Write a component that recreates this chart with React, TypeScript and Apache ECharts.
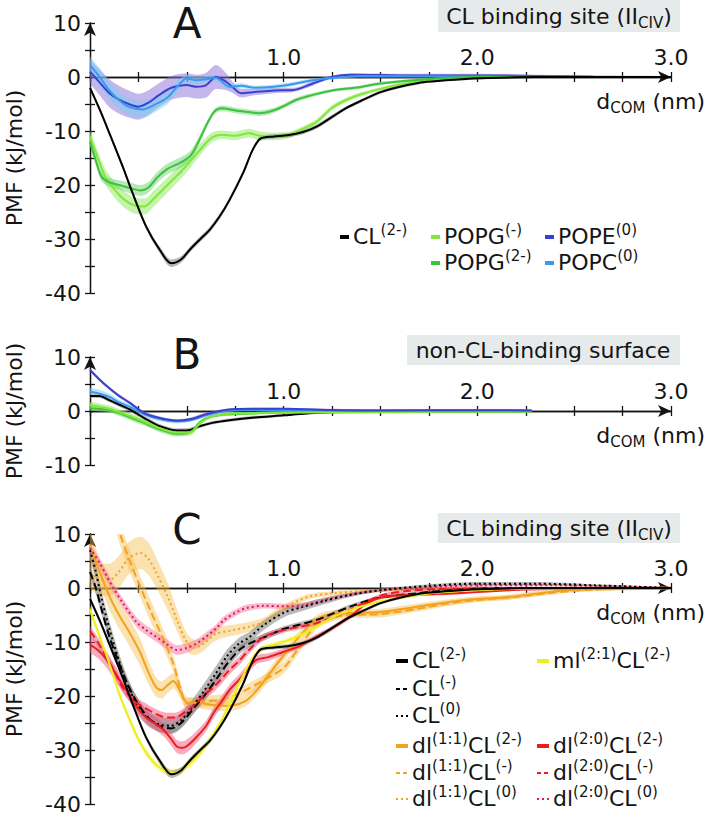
import React, { useEffect, useRef } from 'react';
import * as echarts from 'echarts';

// Each point: [d_COM (nm), PMF (kJ/mol), error half-width (kJ/mol)]
type Pt = [number, number, number];

// ---------- Panel A : CL binding site (II_CIV) ----------
const A_CL2: Pt[] = [[0,-2,0.5],[0.05,-6,0.5],[0.1,-10.4,0.5],[0.17,-16.7,0.5],[0.22,-21.5,0.5],[0.29,-27.7,0.5],[0.36,-32,0.6],[0.42,-34.5,0.7],[0.47,-33.8,0.6],[0.52,-31.8,0.5],[0.57,-30,0.5],[0.62,-28.2,0.5],[0.67,-25.8,0.5],[0.72,-22.8,0.5],[0.79,-17.8,0.5],[0.84,-13.5,0.4],[0.88,-11.4,0.4],[0.95,-11,0.4],[1.02,-10.8,0.4],[1.1,-10.2,0.4],[1.17,-9.2,0.4],[1.25,-7.4,0.4],[1.32,-5.8,0.3],[1.4,-4.4,0.3],[1.5,-2.8,0.3],[1.6,-1.8,0.3],[1.74,-0.9,0.2],[1.9,-0.45,0.2],[2.05,-0.2,0.2],[2.3,0,0.2],[3.0,0,0.2]];
const A_POPG1: Pt[] = [[0,-11,1.2],[0.04,-15,1.3],[0.08,-18.5,1.4],[0.13,-21,1.5],[0.18,-22.8,1.5],[0.23,-23.8,1.5],[0.28,-24,1.5],[0.33,-22.5,1.5],[0.4,-20,1.4],[0.47,-17.5,1.3],[0.52,-15.5,1.2],[0.58,-13,1.0],[0.63,-11.2,0.9],[0.68,-10.7,0.8],[0.75,-10.9,0.8],[0.82,-10.4,0.8],[0.88,-10.9,0.8],[0.95,-11,0.7],[1.02,-10.8,0.6],[1.1,-9.6,0.5],[1.17,-8.3,0.5],[1.25,-5.7,0.5],[1.32,-4.3,0.4],[1.4,-3.2,0.4],[1.5,-2.2,0.3],[1.6,-1.4,0.3],[1.74,-0.6,0.3],[1.9,-0.2,0.2],[2.1,0,0.2],[3.0,0,0.2]];
const A_POPG2: Pt[] = [[0,-12,0.8],[0.03,-15.5,0.8],[0.06,-18.5,0.8],[0.1,-19.5,0.8],[0.15,-20,0.9],[0.2,-20.5,1.0],[0.26,-21,1.0],[0.3,-20.5,1.0],[0.35,-18.5,1.0],[0.4,-17,1.0],[0.46,-16,1.0],[0.52,-14.5,0.9],[0.56,-12,0.8],[0.6,-9,0.6],[0.64,-6.5,0.5],[0.68,-5.8,0.5],[0.75,-6.2,0.5],[0.82,-6.5,0.5],[0.87,-6.7,0.5],[0.93,-6.4,0.5],[1.0,-5.4,0.4],[1.06,-4.3,0.4],[1.12,-3.6,0.4],[1.25,-2.5,0.3],[1.39,-1.9,0.3],[1.5,-1.2,0.3],[1.74,-0.4,0.2],[2.0,0,0.2],[3.0,0,0.2]];
const A_POPE: Pt[] = [[0,1,2.2],[0.05,-1,2.4],[0.1,-3,2.6],[0.15,-4.2,2.6],[0.2,-5,2.5],[0.25,-5.5,2.4],[0.3,-4.8,2.3],[0.35,-3.5,2.2],[0.42,-2,2.2],[0.5,-1.5,2.2],[0.55,-1.8,2.2],[0.6,-1.5,2.3],[0.65,0,2.2],[0.7,-0.8,1.6],[0.74,-2,1.0],[0.78,-3,0.8],[0.85,-2.8,0.6],[0.95,-2.5,0.5],[1.05,-2.4,0.4],[1.15,-1.2,0.4],[1.25,0,0.3],[1.35,0.4,0.3],[1.6,0.3,0.3],[2.0,0.3,0.3],[2.3,0.2,0.2],[2.6,0.05,0.2],[3.0,0,0.2]];
const A_POPC: Pt[] = [[0,2.2,1.6],[0.05,0,1.6],[0.1,-2.5,1.6],[0.15,-4.3,1.6],[0.2,-5.5,1.6],[0.27,-6,1.6],[0.33,-5.2,1.4],[0.4,-3.8,1.2],[0.45,-1.8,1.0],[0.5,-0.3,0.8],[0.55,-0.6,0.7],[0.6,-0.4,0.6],[0.65,-0.2,0.6],[0.72,-1.8,0.5],[0.78,-1.6,0.5],[0.85,-2,0.4],[0.95,-1.8,0.4],[1.05,-1.3,0.4],[1.15,-0.6,0.3],[1.25,-0.2,0.3],[1.4,0.2,0.3],[2.0,0.1,0.2],[3.0,0,0.2]];

// ---------- Panel B : non-CL-binding surface ----------
const B_CL2: Pt[] = [[0,2.8,0.4],[0.05,2.8,0.4],[0.1,2.0,0.4],[0.15,1.2,0.4],[0.21,0.2,0.4],[0.28,-1.3,0.4],[0.36,-2.8,0.4],[0.45,-3.6,0.4],[0.5,-3.6,0.4],[0.57,-2.8,0.3],[0.63,-2.2,0.3],[0.72,-1.7,0.3],[0.85,-1.2,0.3],[1.0,-0.8,0.2],[1.1,-0.5,0.2],[1.25,-0.2,0.2],[1.5,0,0.2],[2.28,0,0.2]];
const B_POPG1: Pt[] = [[0,1.1,0.6],[0.05,0.8,0.6],[0.1,0.4,0.6],[0.15,-0.2,0.6],[0.21,-1,0.6],[0.28,-2,0.6],[0.36,-3.2,0.6],[0.45,-4,0.6],[0.5,-4,0.6],[0.53,-3.8,0.5],[0.57,-2.2,0.4],[0.63,-1.0,0.3],[0.72,-0.5,0.3],[1.0,-0.3,0.2],[1.5,-0.2,0.2],[2.28,-0.1,0.2]];
const B_POPG2: Pt[] = [[0,0.5,0.5],[0.05,0.4,0.5],[0.1,0.2,0.5],[0.15,-0.4,0.5],[0.21,-1.2,0.5],[0.28,-2.2,0.5],[0.36,-3.4,0.5],[0.45,-4.2,0.5],[0.5,-4.1,0.5],[0.53,-3.6,0.4],[0.57,-2,0.3],[0.63,-1,0.3],[0.72,-0.6,0.3],[1.0,-0.3,0.2],[1.5,-0.2,0.2],[2.28,-0.1,0.2]];
const B_POPE: Pt[] = [[0,7.6,0.3],[0.05,5.8,0.3],[0.1,4.2,0.3],[0.15,2.8,0.3],[0.21,1.4,0.3],[0.28,-0.4,0.3],[0.36,-1.3,0.3],[0.45,-1.8,0.3],[0.52,-1.5,0.3],[0.6,-0.6,0.3],[0.7,0.2,0.2],[0.85,0.4,0.2],[1.0,0.4,0.2],[1.25,0.2,0.2],[1.5,0.1,0.2],[2.0,0.15,0.2],[2.28,0.1,0.2]];
const B_POPC: Pt[] = [[0,3.6,0.7],[0.05,3.2,0.7],[0.1,2.6,0.6],[0.15,1.6,0.5],[0.21,0.7,0.5],[0.28,-0.6,0.4],[0.36,-1.5,0.4],[0.45,-1.9,0.4],[0.52,-1.7,0.3],[0.6,-0.8,0.3],[0.7,0,0.2],[0.85,0.2,0.2],[1.0,0.2,0.2],[1.5,0.1,0.2],[2.28,0.1,0.2]];

// ---------- Panel C : CL binding site (II_CIV), CL variants ----------
const C_CL2: Pt[] = A_CL2;
const C_CL1: Pt[] = [[0,3,1.0],[0.03,0,1.0],[0.06,-4,1.0],[0.1,-9,1.0],[0.14,-13,1.0],[0.19,-17.5,1.0],[0.24,-21,1.0],[0.3,-24,1.0],[0.36,-25.6,1.0],[0.42,-26,1.0],[0.47,-25,1.0],[0.53,-22.5,1.0],[0.6,-19.5,1.0],[0.66,-16.5,1.0],[0.72,-13.5,0.9],[0.78,-11.2,0.8],[0.84,-10,0.7],[0.92,-8.8,0.6],[1.0,-7.6,0.5],[1.08,-6.8,0.5],[1.17,-5.9,0.4],[1.25,-4.8,0.4],[1.34,-3.5,0.4],[1.48,-1.9,0.3],[1.68,-1,0.3],[1.86,-0.4,0.2],[2.1,0,0.2],[2.5,0,0.2],[3.0,0,0.2]];
const C_CL0: Pt[] = [[0,7,1.4],[0.03,3,1.4],[0.06,-2,1.4],[0.1,-7.5,1.4],[0.15,-13.5,1.4],[0.2,-18.5,1.4],[0.25,-22,1.4],[0.3,-24.2,1.4],[0.36,-25.3,1.4],[0.42,-25.5,1.4],[0.47,-24.5,1.4],[0.53,-22,1.4],[0.59,-19,1.4],[0.65,-15.8,1.3],[0.71,-12.5,1.2],[0.77,-10.3,1.1],[0.82,-9.2,1.0],[0.9,-6.8,0.9],[1.0,-4.6,0.8],[1.1,-3.5,0.7],[1.2,-2.5,0.6],[1.34,-1.3,0.4],[1.5,-0.4,0.3],[1.75,0.4,0.3],[2.0,0.8,0.3],[2.3,0.8,0.3],[2.6,0.5,0.2],[3.0,0,0.2]];
const C_ML: Pt[] = [[0,-4,0.7],[0.05,-9,0.7],[0.1,-14,0.7],[0.15,-19.5,0.7],[0.2,-24,0.7],[0.25,-28,0.7],[0.3,-31,0.7],[0.35,-33,0.7],[0.4,-34,0.7],[0.44,-34.2,0.7],[0.5,-33,0.7],[0.57,-30.5,0.7],[0.62,-28,0.7],[0.68,-24.5,0.7],[0.74,-20,0.7],[0.8,-15.5,0.6],[0.85,-12.5,0.6],[0.9,-11,0.5],[0.95,-10.5,0.5],[1.05,-9.3,0.5],[1.15,-7.5,0.4],[1.25,-5.5,0.4],[1.35,-4,0.4],[1.5,-2.5,0.3],[1.75,-1,0.3],[2.0,-0.4,0.2],[2.3,-0.1,0.2],[3.0,0,0.2]];
const C_DL11_2: Pt[] = [[0,8,2.5],[0.05,3,2.5],[0.1,-1.5,2.5],[0.15,-5,2.5],[0.2,-8,2.5],[0.26,-12,2.5],[0.3,-15.5,2.2],[0.34,-18.3,1.8],[0.37,-18.9,1.6],[0.4,-18,1.5],[0.43,-17.2,1.4],[0.47,-19.4,1.2],[0.5,-21.2,1.0],[0.57,-21.3,1.0],[0.67,-21.8,1.0],[0.74,-21.7,1.0],[0.8,-21,1.0],[0.86,-19,1.0],[0.93,-15.7,1.0],[1.0,-12.5,1.0],[1.08,-9,1.0],[1.17,-5.8,0.8],[1.25,-4.8,0.7],[1.4,-4.6,0.6],[1.51,-4.4,0.6],[1.68,-3.5,0.6],[1.94,-2.2,0.5],[2.16,-1.7,0.5],[2.43,-0.5,0.4],[2.7,-0.1,0.3],[3.0,0,0.3]];
const C_DL11_1: Pt[] = [[0.12,14,2.0],[0.155,10,2.0],[0.21,4.6,2.0],[0.26,0.2,2.0],[0.31,-4,2.0],[0.38,-9.6,1.8],[0.43,-14,1.5],[0.47,-19,1.2],[0.5,-21.4,1.0],[0.6,-21,1.0],[0.7,-20.5,1.0],[0.8,-19,1.0],[0.9,-17,1.0],[1.0,-14.8,1.0],[1.08,-11,1.0],[1.17,-6.8,0.8],[1.25,-5.5,0.7],[1.34,-5,0.6],[1.51,-4.8,0.6],[1.7,-3.8,0.5],[1.86,-2.8,0.5],[2.0,-2.2,0.4],[2.2,-1.6,0.4],[2.5,-0.5,0.3],[2.8,-0.1,0.3],[3.0,0,0.3]];
const C_DL11_0: Pt[] = [[0,3,3.0],[0.05,1.5,3.0],[0.1,1.5,3.0],[0.15,3,3.0],[0.2,5.5,3.0],[0.26,6.5,3.0],[0.3,5.5,3.0],[0.34,3,2.8],[0.4,-1.5,2.5],[0.45,-6,2.0],[0.5,-10,1.6],[0.54,-11,1.4],[0.58,-10.5,1.3],[0.65,-8.5,1.2],[0.74,-7.8,1.0],[0.82,-7.2,0.9],[0.9,-6.2,0.8],[1.0,-3.8,0.7],[1.12,-1.7,0.5],[1.25,-1,0.4],[1.4,-0.6,0.3],[1.6,-0.3,0.3],[2.0,0,0.2],[3.0,0,0.2]];
const C_DL20_2: Pt[] = [[0,-10.5,1.5],[0.04,-11.5,1.5],[0.08,-13,1.5],[0.12,-15.2,1.4],[0.17,-18,1.3],[0.21,-20.2,1.2],[0.25,-22.5,1.2],[0.29,-24,1.2],[0.34,-25.2,1.2],[0.38,-26.3,1.2],[0.42,-28,1.2],[0.45,-29.4,1.2],[0.48,-29.6,1.2],[0.51,-29,1.2],[0.55,-27.6,1.1],[0.6,-25.5,1.0],[0.64,-23,1.0],[0.68,-21,1.0],[0.72,-18.9,1.0],[0.77,-17,1.0],[0.81,-15.2,0.9],[0.86,-13.3,0.8],[0.92,-12.8,0.7],[1.0,-11.8,0.6],[1.08,-10.8,0.5],[1.17,-9,0.5],[1.25,-7.5,0.4],[1.34,-5.4,0.4],[1.43,-2.8,0.3],[1.51,-1.7,0.3],[1.7,-1.2,0.3],[1.86,-1,0.3],[2.16,-0.4,0.2],[2.5,-0.1,0.2],[3.0,0,0.2]];
const C_DL20_1: Pt[] = [[0,-8,0.9],[0.04,-10,0.9],[0.08,-12.5,0.9],[0.12,-15,0.9],[0.17,-18.5,0.9],[0.23,-21,0.9],[0.29,-22.3,0.9],[0.35,-23.5,0.9],[0.4,-24,0.9],[0.44,-24,0.9],[0.49,-23,0.9],[0.55,-21.3,0.9],[0.6,-19.5,0.9],[0.64,-18.3,0.9],[0.68,-16.8,0.9],[0.72,-15.2,0.8],[0.77,-13.5,0.8],[0.82,-11.5,0.7],[0.9,-9,0.6],[1.0,-7.8,0.5],[1.08,-7.2,0.5],[1.17,-6.5,0.4],[1.25,-5.5,0.4],[1.34,-4.1,0.4],[1.43,-2.5,0.3],[1.51,-1.3,0.3],[1.65,-0.5,0.3],[1.8,-0.2,0.2],[2.2,0,0.2],[3.0,0,0.2]];
const C_DL20_0: Pt[] = [[0,7.4,0.9],[0.05,4.6,0.9],[0.09,2,0.9],[0.12,0,0.9],[0.17,-2.8,0.9],[0.24,-6.3,0.9],[0.29,-7.8,0.9],[0.34,-9,0.9],[0.4,-10.5,0.9],[0.45,-11.5,0.9],[0.5,-11.1,0.9],[0.55,-10.3,0.8],[0.6,-9,0.8],[0.65,-7.5,0.7],[0.69,-6,0.7],[0.75,-4.6,0.6],[0.81,-3.7,0.6],[0.9,-3.3,0.5],[1.0,-3.4,0.5],[1.1,-3.2,0.5],[1.25,-1.9,0.4],[1.43,-0.7,0.3],[1.68,0,0.3],[2.03,0.5,0.3],[2.4,0.5,0.2],[2.7,0.3,0.2],[3.0,0,0.2]];

// ---------- Axis tick labels ----------
const X_LABELS = [1, 2, 3];
const Y_LABELS_AC = [10, 0, -10, -20, -30, -40];
const Y_LABELS_B = [10, 0, -10];

// ---------- Styling ----------
const FONT = 'DejaVu Sans';
const INK = '#141414';
const C = {
  black: '#000000', gray: 'rgba(130,130,130,0.55)',
  lgreen: '#84e638', lgreenB: 'rgba(150,235,110,0.55)',
  green: '#3cc23c', greenB: 'rgba(95,205,95,0.45)',
  dblue: '#3a40cf', dblueB: 'rgba(140,110,215,0.5)',
  lblue: '#3d97ee', lblueB: 'rgba(120,205,245,0.5)',
  yellow: '#eeee1c', yellowB: 'rgba(245,245,110,0.55)',
  orange: '#f3a21f', orangeB: 'rgba(246,185,70,0.42)',
  red: '#ee1c1c', redB: 'rgba(240,90,130,0.5)',
  crimson: '#e5194f', crimsonB: 'rgba(245,120,160,0.5)',
};
const DASH = [8, 4];
const DOT = [2, 3];

type Curve = { id: string; pts: Pt[]; panel: number; color: string; band: string; dash?: number[] | 'solid'; width?: number };

const CURVES: Curve[] = [
  { id: 'A_POPE', pts: A_POPE, panel: 0, color: C.dblue, band: C.dblueB },
  { id: 'A_POPC', pts: A_POPC, panel: 0, color: C.lblue, band: C.lblueB },
  { id: 'A_POPG1', pts: A_POPG1, panel: 0, color: C.lgreen, band: C.lgreenB },
  { id: 'A_POPG2', pts: A_POPG2, panel: 0, color: C.green, band: C.greenB },
  { id: 'A_CL2', pts: A_CL2, panel: 0, color: C.black, band: C.gray },
  { id: 'B_CL2', pts: B_CL2, panel: 1, color: C.black, band: C.gray },
  { id: 'B_POPG2', pts: B_POPG2, panel: 1, color: C.green, band: C.greenB },
  { id: 'B_POPG1', pts: B_POPG1, panel: 1, color: C.lgreen, band: C.lgreenB },
  { id: 'B_POPC', pts: B_POPC, panel: 1, color: C.lblue, band: C.lblueB },
  { id: 'B_POPE', pts: B_POPE, panel: 1, color: C.dblue, band: C.dblueB },
  { id: 'C_DL11_0', pts: C_DL11_0, panel: 2, color: C.orange, band: C.orangeB, dash: DOT },
  { id: 'C_DL11_1', pts: C_DL11_1, panel: 2, color: C.orange, band: C.orangeB, dash: DASH },
  { id: 'C_DL11_2', pts: C_DL11_2, panel: 2, color: C.orange, band: C.orangeB },
  { id: 'C_DL20_0', pts: C_DL20_0, panel: 2, color: C.crimson, band: C.crimsonB, dash: DOT },
  { id: 'C_CL0', pts: C_CL0, panel: 2, color: C.black, band: C.gray, dash: DOT },
  { id: 'C_CL1', pts: C_CL1, panel: 2, color: C.black, band: C.gray, dash: DASH },
  { id: 'C_DL20_1', pts: C_DL20_1, panel: 2, color: C.red, band: C.redB, dash: DASH },
  { id: 'C_DL20_2', pts: C_DL20_2, panel: 2, color: C.red, band: C.redB },
  { id: 'C_ML', pts: C_ML, panel: 2, color: C.yellow, band: C.yellowB },
  { id: 'C_CL2', pts: C_CL2, panel: 2, color: C.black, band: C.gray },
];

const YMAX = 10;
const GRIDS = [
  { left: 90, top: 23, width: 581, height: 270, min: -40, labels: Y_LABELS_AC },
  { left: 90, top: 357, width: 581, height: 108, min: -10, labels: Y_LABELS_B },
  { left: 90, top: 534, width: 581, height: 270, min: -40, labels: Y_LABELS_AC },
];

const SMOOTH = 0.3;

const RICH: any = {
  t: { fontFamily: FONT, fontSize: 22, lineHeight: 28, fill: INK, verticalAlign: 'middle' },
  s: { fontFamily: FONT, fontSize: 15, lineHeight: 14, fill: INK, verticalAlign: 'top' },
  b: { fontFamily: FONT, fontSize: 15, lineHeight: 14, fill: INK, verticalAlign: 'bottom' },
};

function richText(x: number, y: number, text: string, align: string = 'left', rotation = 0): any {
  return {
    type: 'text', x, y, rotation, z: 100,
    style: { text, rich: RICH, fill: INK, align, textAlign: align, verticalAlign: 'middle', textVerticalAlign: 'middle', fontFamily: FONT, fontSize: 22 },
  };
}

type LegendItem = { text: string; color: string; dash: 'solid' | 'dash' | 'dot'; x: number; y: number; len: number };
const LEGEND_A: LegendItem[] = [
  { text: '{t|CL}{s|(2-)}', color: C.black, dash: 'solid', x: 340, y: 236, len: 9 },
  { text: '{t|POPG}{s|(-)}', color: C.lgreen, dash: 'solid', x: 431, y: 236, len: 9 },
  { text: '{t|POPE}{s|(0)}', color: C.dblue, dash: 'solid', x: 545, y: 236, len: 9 },
  { text: '{t|POPG}{s|(2-)}', color: C.green, dash: 'solid', x: 431, y: 262, len: 9 },
  { text: '{t|POPC}{s|(0)}', color: C.lblue, dash: 'solid', x: 545, y: 262, len: 9 },
];
const LEGEND_C: LegendItem[] = [
  { text: '{t|CL}{s|(2-)}', color: C.black, dash: 'solid', x: 396, y: 660, len: 12 },
  { text: '{t|ml}{s|(2:1)}{t|CL}{s|(2-)}', color: C.yellow, dash: 'solid', x: 537, y: 660, len: 12 },
  { text: '{t|CL}{s|(-)}', color: C.black, dash: 'dash', x: 396, y: 688, len: 12 },
  { text: '{t|CL}{s|(0)}', color: C.black, dash: 'dot', x: 396, y: 715, len: 12 },
  { text: '{t|dl}{s|(1:1)}{t|CL}{s|(2-)}', color: C.orange, dash: 'solid', x: 396, y: 745, len: 12 },
  { text: '{t|dl}{s|(2:0)}{t|CL}{s|(2-)}', color: C.red, dash: 'solid', x: 537, y: 745, len: 12 },
  { text: '{t|dl}{s|(1:1)}{t|CL}{s|(-)}', color: C.orange, dash: 'dash', x: 396, y: 772, len: 12 },
  { text: '{t|dl}{s|(2:0)}{t|CL}{s|(-)}', color: C.red, dash: 'dash', x: 537, y: 772, len: 12 },
  { text: '{t|dl}{s|(1:1)}{t|CL}{s|(0)}', color: C.orange, dash: 'dot', x: 396, y: 798, len: 12 },
  { text: '{t|dl}{s|(2:0)}{t|CL}{s|(0)}', color: C.crimson, dash: 'dot', x: 537, y: 798, len: 12 },
];

function legendEls(items: LegendItem[]): any[] {
  const els: any[] = [];
  for (const it of items) {
    els.push({
      type: 'line', z: 100,
      shape: { x1: it.x, y1: it.y + 1, x2: it.x + it.len, y2: it.y + 1 },
      style: {
        stroke: it.color,
        lineWidth: it.dash === 'solid' ? 4 : 2,
        lineDash: it.dash === 'dash' ? [4, 3] : it.dash === 'dot' ? [2, 3] : null,
      },
    });
    els.push(richText(it.x + it.len + 4, it.y, it.text));
  }
  return els;
}

function buildOption(): any {
  const grid = GRIDS.map((g) => ({ left: g.left, top: g.top, width: g.width, height: g.height, containLabel: false }));
  const lineStyle = { color: INK, width: 1.3 };
  const xAxis: any[] = [];
  const yAxis: any[] = [];
  GRIDS.forEach((g, gi) => {
    // place the x axis on the y = 0 line (labels included), by shifting it up from the grid bottom
    const zeroOffset = -g.height * (0 - g.min) / (YMAX - g.min);
    xAxis.push({
      type: 'value', gridIndex: gi, min: 0, max: 3, interval: 0.25, position: 'bottom', offset: zeroOffset,
      axisLine: { show: true, onZero: false, symbol: ['none', 'arrow'], symbolSize: [9, 13], lineStyle },
      axisTick: { show: true, inside: false, length: 5, lineStyle },
      axisLabel: {
        show: true, inside: true, margin: 9, fontFamily: FONT, fontSize: 22, color: INK,
        formatter: (v: number) => (X_LABELS.includes(v) ? v.toFixed(1) : ''),
      },
      splitLine: { show: false },
    });
    xAxis.push({
      type: 'value', gridIndex: gi, min: 0, max: 3, interval: 0.25, position: 'bottom', offset: zeroOffset,
      axisLine: { show: true, onZero: false, symbol: 'none', lineStyle },
      axisTick: { show: true, inside: true, length: 5, lineStyle },
      axisLabel: { show: false },
      splitLine: { show: false },
    });
    yAxis.push({
      type: 'value', gridIndex: gi, min: g.min, max: YMAX, interval: 5, position: 'left',
      axisLine: { show: true, onZero: false, symbol: ['none', 'arrow'], symbolSize: [9, 13], lineStyle },
      axisTick: { show: true, inside: false, length: 5, lineStyle },
      axisLabel: {
        show: true, margin: 9, fontFamily: FONT, fontSize: 22, color: INK,
        formatter: (v: number) => (g.labels.includes(v) ? String(v) : ''),
      },
      splitLine: { show: false },
    });
    yAxis.push({
      type: 'value', gridIndex: gi, min: g.min, max: YMAX, interval: 5, position: 'left',
      axisLine: { show: true, onZero: false, symbol: 'none', lineStyle },
      axisTick: { show: true, inside: true, length: 5, lineStyle },
      axisLabel: { show: false },
      splitLine: { show: false },
    });
  });

  const bands: any[] = [];
  const lines: any[] = [];
  CURVES.forEach((c) => {
    const xi = c.panel * 2;
    const yi = c.panel * 2;
    // band = stacked pair (lower bound, then width); PMF is the first column so that it is the stacked dimension
    bands.push({
      type: 'line', xAxisIndex: xi, yAxisIndex: yi, stack: c.id, stackStrategy: 'all',
      data: c.pts.map((p) => [p[1] - p[2], p[0]]), encode: { x: 1, y: 0 },
      symbol: 'none', showSymbol: false, smooth: SMOOTH, silent: true, z: 1,
      lineStyle: { width: 0, opacity: 0 },
    });
    bands.push({
      type: 'line', xAxisIndex: xi, yAxisIndex: yi, stack: c.id, stackStrategy: 'all',
      data: c.pts.map((p) => [2 * p[2], p[0]]), encode: { x: 1, y: 0 },
      symbol: 'none', showSymbol: false, smooth: SMOOTH, silent: true, z: 1,
      lineStyle: { width: 0, opacity: 0 },
      areaStyle: { color: c.band, opacity: 1 },
    });
    lines.push({
      type: 'line', xAxisIndex: xi, yAxisIndex: yi,
      data: c.pts.map((p) => [p[0], p[1]]),
      symbol: 'none', showSymbol: false, smooth: SMOOTH, silent: true, z: 3,
      lineStyle: { width: c.width ?? 2, color: c.color, type: c.dash ?? 'solid', cap: 'butt' },
    });
  });

  const letter = (t: string, y: number) => ({
    type: 'text', x: 187, y, z: 100,
    style: { text: t, fontFamily: FONT, fontSize: 42, fill: INK, align: 'center', textAlign: 'center', verticalAlign: 'middle', textVerticalAlign: 'middle' },
  });

  const graphic: any[] = [
    letter('A', 23), letter('B', 354), letter('C', 529),
    { type: 'rect', z: 90, shape: { x: 438, y: 0, width: 242, height: 32 }, style: { fill: '#e7eaea' } },
    richText(559, 16, '{t|CL binding site (II}{b|CIV}{t|)}', 'center'),
    { type: 'rect', z: 90, shape: { x: 407, y: 335, width: 273, height: 30 }, style: { fill: '#e7eaea' } },
    richText(543, 350, '{t|non-CL-binding surface}', 'center'),
    { type: 'rect', z: 90, shape: { x: 438, y: 513, width: 242, height: 30 }, style: { fill: '#e7eaea' } },
    richText(559, 528, '{t|CL binding site (II}{b|CIV}{t|)}', 'center'),
    richText(705, 101, '{t|d}{b|COM}{t| (nm)}', 'right'),
    richText(705, 435, '{t|d}{b|COM}{t| (nm)}', 'right'),
    richText(705, 612, '{t|d}{b|COM}{t| (nm)}', 'right'),
    richText(14, 158, '{t|PMF (kJ/mol)}', 'center', Math.PI / 2),
    richText(14, 411, '{t|PMF (kJ/mol)}', 'center', Math.PI / 2),
    richText(14, 669, '{t|PMF (kJ/mol)}', 'center', Math.PI / 2),
    ...legendEls(LEGEND_A),
    ...legendEls(LEGEND_C),
  ];

  return {
    animation: false,
    backgroundColor: '#ffffff',
    grid, xAxis, yAxis,
    series: [...bands, ...lines],
    graphic,
  };
}

export default function App() {
  const ref = useRef<HTMLDivElement>(null);
  useEffect(() => {
    if (!ref.current) return;
    const chart = echarts.init(ref.current, undefined, { renderer: 'svg' });
    chart.setOption(buildOption());
    return () => chart.dispose();
  }, []);
  return <div ref={ref} style={{ position: 'absolute', left: 0, top: 0, width: 708, height: 815 }} />;
}
